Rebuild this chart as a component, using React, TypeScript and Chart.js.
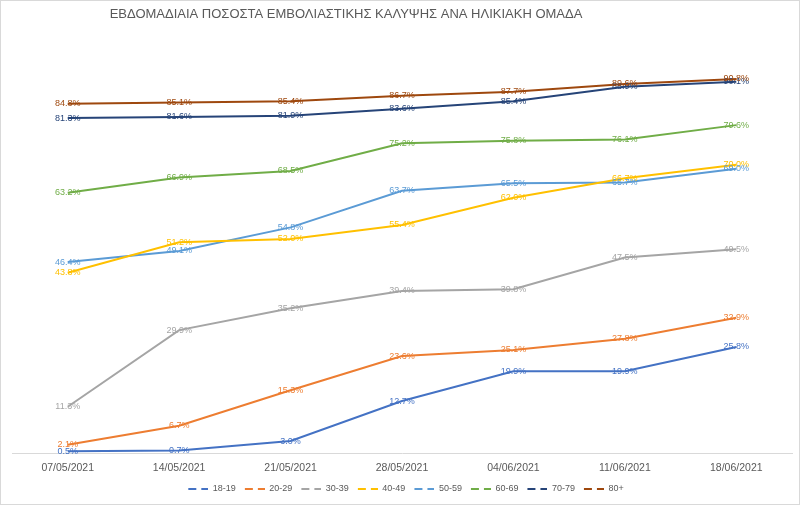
import React, { useEffect, useRef } from 'react';
import { Chart, registerables } from 'chart.js';

Chart.register(...registerables);

const chartTitle = 'ΕΒΔΟΜΑΔΙΑΙΑ ΠΟΣΟΣΤΑ ΕΜΒΟΛΙΑΣΤΙΚΗΣ ΚΑΛΥΨΗΣ ΑΝΑ ΗΛΙΚΙΑΚΗ ΟΜΑΔΑ';
const dates = ['07/05/2021', '14/05/2021', '21/05/2021', '28/05/2021', '04/06/2021', '11/06/2021', '18/06/2021'];
const ageGroups = ['18-19', '20-29', '30-39', '40-49', '50-59', '60-69', '70-79', '80+'];
const groupColors = ['#4472C4', '#ED7D31', '#A5A5A5', '#FFC000', '#5B9BD5', '#70AD47', '#264478', '#9E480E'];

const age18to19 = [0.5, 0.7, 3.0, 12.7, 19.9, 19.9, 25.8];
const age20to29 = [2.1, 6.7, 15.3, 23.6, 25.1, 27.8, 32.9];
const age30to39 = [11.3, 29.9, 35.2, 39.4, 39.8, 47.5, 49.5];
const age40to49 = [43.8, 51.2, 52.0, 55.4, 62.0, 66.7, 70.0];
const age50to59 = [46.4, 49.1, 54.8, 63.7, 65.5, 65.7, 69.0];
const age60to69 = [63.2, 66.9, 68.5, 75.2, 75.8, 76.1, 79.6];
const age70to79 = [81.3, 81.6, 81.9, 83.6, 85.4, 88.9, 90.1];
const age80plus = [84.8, 85.1, 85.4, 86.7, 87.7, 89.6, 90.8];

const seriesValues = [age18to19, age20to29, age30to39, age40to49, age50to59, age60to69, age70to79, age80plus];

const FONT = '"Liberation Sans", Arial, sans-serif';
const TEXT_GREY = '#595959';

// "— —" swatch for the legend; the blank left part acts as spacing between items
function legendMarker(color: string) {
  const c = document.createElement('canvas');
  c.width = 28;
  c.height = 2;
  const g = c.getContext('2d');
  if (g) {
    g.fillStyle = color;
    g.fillRect(8, 0, 8, 2);
    g.fillRect(21, 0, 7, 2);
  }
  return c;
}

const titlePlugin = {
  id: 'offsetTitle',
  afterDraw(chart: Chart) {
    const { ctx } = chart;
    ctx.save();
    ctx.font = `13px ${FONT}`;
    ctx.fillStyle = TEXT_GREY;
    ctx.textAlign = 'center';
    ctx.textBaseline = 'middle';
    ctx.fillText(chartTitle, 346, 14);
    ctx.restore();
  },
};

const pointLabels = {
  id: 'pointLabels',
  afterDatasetsDraw(chart: Chart) {
    const { ctx } = chart;
    ctx.save();
    ctx.font = `9px ${FONT}`;
    ctx.textAlign = 'center';
    ctx.textBaseline = 'middle';
    chart.data.datasets.forEach((ds, i) => {
      const meta = chart.getDatasetMeta(i);
      ctx.fillStyle = ds.borderColor as string;
      meta.data.forEach((pt, j) => {
        const v = ds.data[j] as number;
        ctx.fillText(v.toFixed(1) + '%', pt.x, pt.y);
      });
    });
    ctx.restore();
  },
};

const frame = {
  id: 'frame',
  afterDraw(chart: Chart) {
    const { ctx, width, height } = chart;
    ctx.save();
    ctx.strokeStyle = '#D9D9D9';
    ctx.lineWidth = 1;
    ctx.strokeRect(0.5, 0.5, width - 1, height - 1);
    ctx.restore();
  },
};

const App: React.FC = () => {
  const canvasRef = useRef<HTMLCanvasElement>(null);
  const chartRef = useRef<Chart | null>(null);

  useEffect(() => {
    if (!canvasRef.current) return;
    if (chartRef.current) chartRef.current.destroy();

    const ctx = canvasRef.current.getContext('2d');
    if (!ctx) return;

    chartRef.current = new Chart(ctx, {
      type: 'line',
      data: {
        labels: dates,
        datasets: ageGroups.map((g, i) => ({
          label: g,
          data: seriesValues[i],
          borderColor: groupColors[i],
          backgroundColor: groupColors[i],
          borderWidth: 2,
          pointRadius: 0,
          pointHoverRadius: 0,
          pointStyle: legendMarker(groupColors[i]),
          tension: 0,
          fill: false,
        })),
      },
      options: {
        responsive: true,
        maintainAspectRatio: false,
        animation: false,
        layout: {
          padding: { left: 12, right: 8, top: 41, bottom: 2 },
        },
        plugins: {
          title: { display: false },
          tooltip: { enabled: false },
          legend: {
            position: 'bottom',
            labels: {
              usePointStyle: true,
              pointStyleWidth: 28,
              boxHeight: 9,
              padding: 1,
              color: TEXT_GREY,
              font: { family: FONT, size: 9 },
            },
          },
        },
        scales: {
          x: {
            offset: true,
            grid: { display: false, drawTicks: false },
            border: { display: true, color: '#D9D9D9', width: 1 },
            ticks: {
              color: TEXT_GREY,
              padding: 8,
              font: { family: FONT, size: 10.5 },
              maxRotation: 0,
            },
            afterFit: (scale) => {
              scale.height += 1;
            },
          },
          y: {
            display: false,
            min: 0,
            max: 100,
          },
        },
      },
      plugins: [titlePlugin, pointLabels, frame],
    });

    return () => {
      if (chartRef.current) {
        chartRef.current.destroy();
        chartRef.current = null;
      }
    };
  }, []);

  return (
    <div style={{ position: 'absolute', left: 0, top: 0, width: '800px', height: '505px', background: '#fff' }}>
      <canvas ref={canvasRef}></canvas>
    </div>
  );
};

export default App;
